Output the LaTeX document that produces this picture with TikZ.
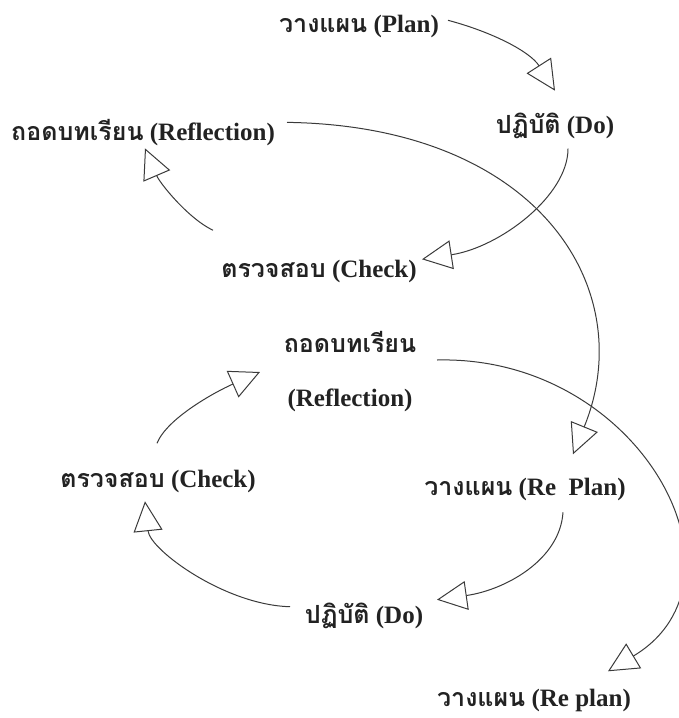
\documentclass[tikz,border=0pt]{standalone}
\usepackage{fontspec}
\setmainfont{Liberation Serif}
\newfontfamily\thaifont[Script=Thai]{Loma}
\usetikzlibrary{arrows.meta}
\newcommand\thaitxt[1]{{\thaifont\bfseries #1}}
\definecolor{ink}{HTML}{222222}
\definecolor{wire}{HTML}{3A3A3A}
\tikzset{
  lbl/.style={inner sep=0pt, anchor=mid, text=ink, font=\bfseries\fontsize{25}{30}\selectfont},
  arr/.style={draw=wire, line width=1pt, -{Triangle[open,length=30pt,width=29pt,line width=1pt]}}
}
\begin{document}
\begin{tikzpicture}[x=1pt,y=-1pt]
\useasboundingbox (0,0) rectangle (679,718);
\node[lbl] (plan1) at (359,30) {\thaitxt{วางแผน} (Plan)};
\node[lbl] (do1) at (555,131) {\thaitxt{ปฏิบัติ} (Do)};
\node[lbl] (refl1) at (143,138) {\thaitxt{ถอดบทเรียน} (Reflection)};
\node[lbl] (check1) at (319,275) {\thaitxt{ตรวจสอบ} (Check)};
\node[lbl, anchor=center, align=center, font=\bfseries\fontsize{25}{54}\selectfont] (refl2) at (350,372) {\thaitxt{ถอดบทเรียน}\\(Reflection)};
\node[lbl] (check2) at (158,485) {\thaitxt{ตรวจสอบ} (Check)};
\node[lbl] (replan) at (525,493) {\thaitxt{วางแผน} (Re~~Plan)};
\node[lbl] (do2) at (364,621) {\thaitxt{ปฏิบัติ} (Do)};
\node[lbl] (replan2) at (534,704) {\thaitxt{วางแผน} (Re plan)};
% upper cycle
\draw[arr] ([shift={(89,-6)}]plan1.center) .. controls +(45,12) and +(-25,-39) .. ([shift={(0,-35)}]do1.center);
\draw[arr] ([shift={(13,23)}]do1.center) .. controls +(0,47) and +(78,-12) .. ([shift={(103,-12)}]check1.center);
\draw[arr] ([shift={(-106,-41)}]check1.center) .. controls +(-25,-12) and +(15,35) .. ([shift={(2,16)}]refl1.center);
\draw[arr] ([shift={(144,-10)}]refl1.center) .. controls (540,126) and (640,290) .. ([shift={(48,-35)}]replan.center);
% lower cycle
\draw[arr] ([shift={(87,-12)}]refl2.center) .. controls (640,355) and (760,580) .. ([shift={(74,-29)}]replan2.center);
\draw[arr] ([shift={(-1,-38)}]check2.center) .. controls +(10,-25) and +(-45,20) .. ([shift={(-90,0)}]refl2.center);
\draw[arr] ([shift={(38,23)}]replan.center) .. controls (560,560) and (505,590) .. ([shift={(73,-16)}]do2.center);
\draw[arr] ([shift={(-74,-9)}]do2.center) .. controls (225,605) and (150,550) .. ([shift={(-13,20)}]check2.center);
\end{tikzpicture}
\end{document}
